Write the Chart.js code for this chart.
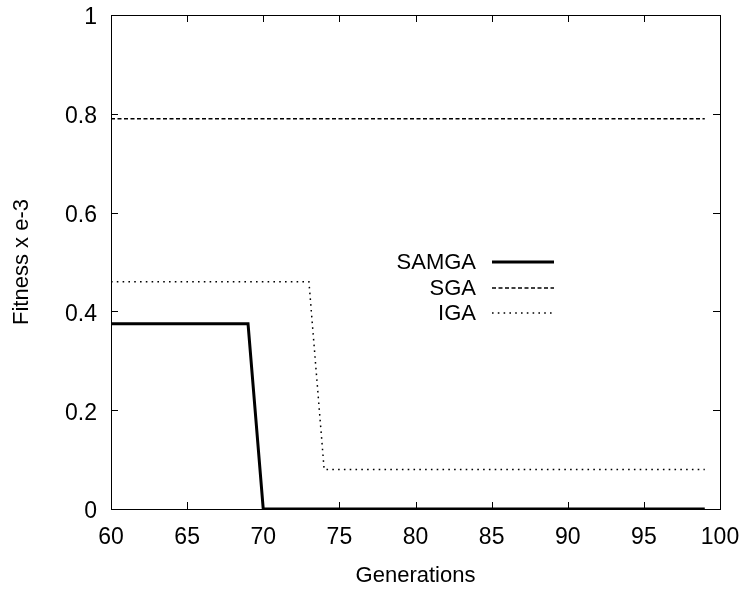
<!DOCTYPE html>
<html>
<head>
<meta charset="utf-8">
<script src="https://cdn.jsdelivr.net/npm/chart.js@4"></script>
<style>
  html, body { margin: 0; padding: 0; background: #fff; }
  #wrap { width: 744px; height: 592px; }
</style>
</head>
<body>
<div id="wrap"><canvas id="fitnessChart" width="744" height="592"></canvas></div>
<script>
// data
const generations = [60, 61, 62, 63, 64, 65, 66, 67, 68, 69,
                     70, 71, 72, 73, 74, 75, 76, 77, 78, 79,
                     80, 81, 82, 83, 84, 85, 86, 87, 88, 89,
                     90, 91, 92, 93, 94, 95, 96, 97, 98, 99];
const samga = [0.375, 0.375, 0.375, 0.375, 0.375, 0.375, 0.375, 0.375, 0.375, 0.375,
               0, 0, 0, 0, 0, 0, 0, 0, 0, 0,
               0, 0, 0, 0, 0, 0, 0, 0, 0, 0,
               0, 0, 0, 0, 0, 0, 0, 0, 0, 0];
const sga = [0.79, 0.79, 0.79, 0.79, 0.79, 0.79, 0.79, 0.79, 0.79, 0.79,
             0.79, 0.79, 0.79, 0.79, 0.79, 0.79, 0.79, 0.79, 0.79, 0.79,
             0.79, 0.79, 0.79, 0.79, 0.79, 0.79, 0.79, 0.79, 0.79, 0.79,
             0.79, 0.79, 0.79, 0.79, 0.79, 0.79, 0.79, 0.79, 0.79, 0.79];
const iga = [0.46, 0.46, 0.46, 0.46, 0.46, 0.46, 0.46, 0.46, 0.46, 0.46,
             0.46, 0.46, 0.46, 0.46, 0.08, 0.08, 0.08, 0.08, 0.08, 0.08,
             0.08, 0.08, 0.08, 0.08, 0.08, 0.08, 0.08, 0.08, 0.08, 0.08,
             0.08, 0.08, 0.08, 0.08, 0.08, 0.08, 0.08, 0.08, 0.08, 0.08];
const seriesNames = ['SAMGA', 'SGA', 'IGA'];
const xTicks = [60, 65, 70, 75, 80, 85, 90, 95, 100];
const yTicks = [0, 0.2, 0.4, 0.6, 0.8, 1];

const FONT = '"Liberation Sans", Arial, sans-serif';
const styles = [
    { width: 3, dash: [] },
    { width: 1.3, dash: [4, 2.5] },
    { width: 1.5, dash: [1.6, 4.2] }
];

function toPoints(ys) {
    return generations.map((g, i) => ({ x: g, y: ys[i] }));
}

// gnuplot-like frame, inward ticks, legend and axis titles
const gnuplotLook = {
    id: 'gnuplotLook',
    afterDatasetsDraw(chart) {
        const { ctx, chartArea: a, scales } = chart;
        ctx.save();
        ctx.strokeStyle = '#000';
        ctx.lineWidth = 1;
        ctx.setLineDash([]);
        ctx.strokeRect(a.left + 0.5, a.top + 0.5, a.right - a.left, a.bottom - a.top);

        const tl = 7;
        ctx.beginPath();
        xTicks.forEach(v => {
            const px = Math.round(scales.x.getPixelForValue(v)) + 0.5;
            ctx.moveTo(px, a.bottom); ctx.lineTo(px, a.bottom - tl);
            ctx.moveTo(px, a.top); ctx.lineTo(px, a.top + tl);
        });
        yTicks.forEach(v => {
            const py = Math.round(scales.y.getPixelForValue(v)) + 0.5;
            ctx.moveTo(a.left, py); ctx.lineTo(a.left + tl, py);
            ctx.moveTo(a.right, py); ctx.lineTo(a.right - tl, py);
        });
        ctx.stroke();

        // legend
        ctx.font = '22px ' + FONT;
        ctx.fillStyle = '#000';
        ctx.textAlign = 'right';
        ctx.textBaseline = 'middle';
        const rows = [262, 288, 313];
        seriesNames.forEach((name, i) => {
            ctx.fillText(name, 476, rows[i] + 1);
            ctx.beginPath();
            ctx.lineWidth = styles[i].width;
            ctx.setLineDash(styles[i].dash);
            ctx.moveTo(492, rows[i]);
            ctx.lineTo(554, rows[i]);
            ctx.stroke();
        });
        ctx.setLineDash([]);

        // axis titles
        ctx.font = '22px ' + FONT;
        ctx.textAlign = 'center';
        ctx.textBaseline = 'middle';
        ctx.fillText('Generations', (a.left + a.right) / 2, 576);
        ctx.translate(22, (a.top + a.bottom) / 2);
        ctx.rotate(-Math.PI / 2);
        ctx.fillText('Fitness x e-3', 0, 0);
        ctx.restore();
    }
};

const datasets = [samga, sga, iga].map((ys, i) => ({
    label: seriesNames[i],
    data: toPoints(ys),
    borderColor: '#000',
    borderWidth: styles[i].width,
    borderDash: styles[i].dash,
    pointRadius: 0,
    tension: 0,
    fill: false
}));

new Chart(document.getElementById('fitnessChart'), {
    type: 'line',
    data: { datasets: datasets },
    options: {
        responsive: false,
        animation: false,
        layout: { padding: { left: 0, right: 24, top: 15, bottom: 0 } },
        plugins: { legend: { display: false }, tooltip: { enabled: false } },
        scales: {
            x: {
                type: 'linear',
                min: 60, max: 100,
                afterBuildTicks: s => { s.ticks = xTicks.map(v => ({ value: v })); },
                afterFit: s => { s.height = 83; s.paddingLeft = 0; s.paddingRight = 0; },
                grid: { display: false, drawTicks: false },
                border: { display: false },
                ticks: { color: '#000', font: { family: FONT, size: 23 }, padding: 15, maxRotation: 0 }
            },
            y: {
                min: 0, max: 1,
                afterBuildTicks: s => { s.ticks = yTicks.map(v => ({ value: v })); },
                afterFit: s => { s.width = 111; s.paddingTop = 0; s.paddingBottom = 0; },
                grid: { display: false, drawTicks: false },
                border: { display: false },
                ticks: {
                    color: '#000', font: { family: FONT, size: 23 }, padding: 14, labelOffset: 3,
                    callback: v => String(Math.round(v * 10) / 10)
                }
            }
        }
    },
    plugins: [gnuplotLook]
});
</script>
</body>
</html>
